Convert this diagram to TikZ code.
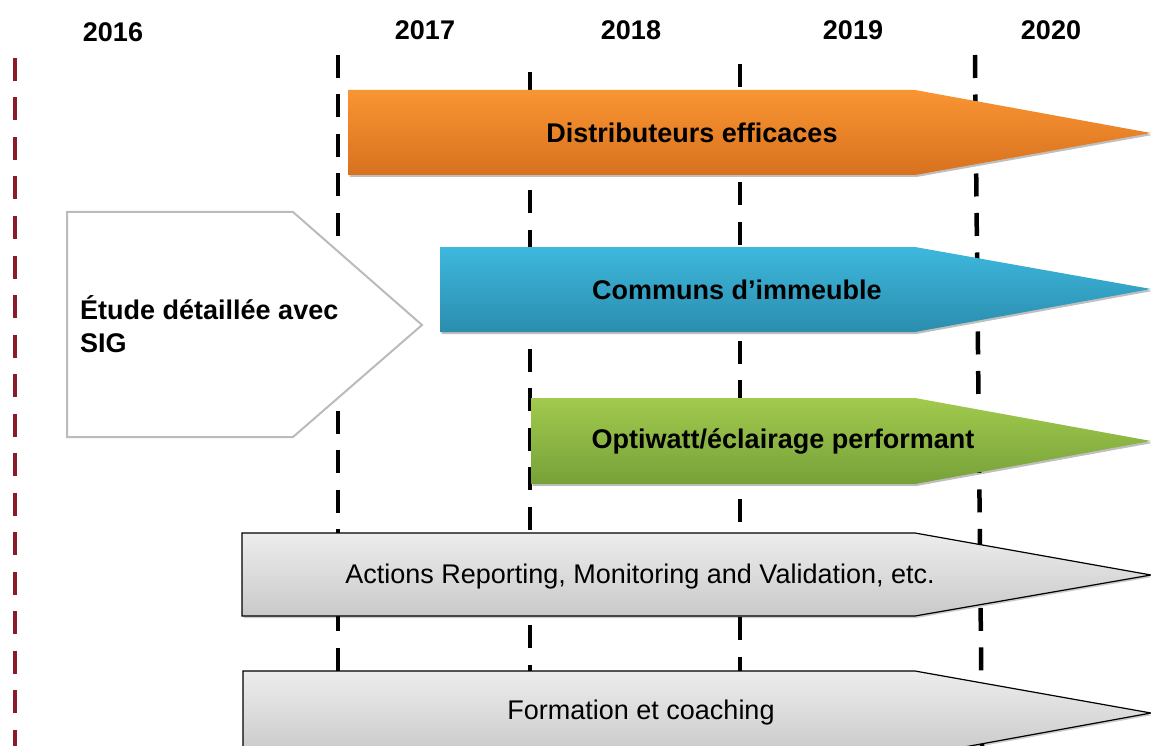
\documentclass[tikz,border=0pt]{standalone}
\usepackage{fontspec}
\setmainfont{Liberation Sans}
\usetikzlibrary{shadows}
\definecolor{orA}{HTML}{F99532}
\definecolor{orB}{HTML}{D8711F}
\definecolor{blA}{HTML}{3DB8DD}
\definecolor{blB}{HTML}{2B8DAE}
\definecolor{grA}{HTML}{A2CA4E}
\definecolor{grB}{HTML}{77A139}
\definecolor{gyA}{HTML}{EDEDED}
\definecolor{gyB}{HTML}{C9C9C9}
\definecolor{maroon}{HTML}{8B1A2B}
\definecolor{pentb}{HTML}{BBBBBB}
\begin{document}
\begin{tikzpicture}[x=1pt,y=-1pt,
  yearlbl/.style={font=\fontsize{27}{32}\selectfont\bfseries, inner sep=0pt},
  boldlbl/.style={font=\fontsize{27}{32}\selectfont\bfseries, inner sep=0pt},
  plainlbl/.style={font=\fontsize{27}{32}\selectfont, inner sep=0pt},
  tline/.style={black, line width=4.5pt, dash pattern=on 23pt off 16.5pt},
  mline/.style={maroon, line width=4.5pt, dash pattern=on 23pt off 16.5pt},
  colshadow/.style={drop shadow={opacity=0.25, shadow xshift=1.5pt, shadow yshift=-2pt, fill=black}},
  greyarrow/.style={top color=gyA, bottom color=gyB, draw=black, line width=1.2pt, line join=miter,
     drop shadow={opacity=0.2, shadow xshift=1.5pt, shadow yshift=-2pt, fill=black}},
]
\useasboundingbox (0,0) rectangle (1151,746);
\clip (0,0) rectangle (1151,746);
\fill[white] (0,0) rectangle (1151,746);

% year labels
\node[yearlbl] (y2016) at (113,32) {2016};
\node[yearlbl] (y2017) at (425,30) {2017};
\node[yearlbl] (y2018) at (631,30) {2018};
\node[yearlbl] (y2019) at (853,30) {2019};
\node[yearlbl] (y2020) at (1051,30) {2020};

% dashed time lines
\coordinate (m0t) at (15,58);   \coordinate (m0b) at (15,746);
\coordinate (d1t) at (338,55);  \coordinate (d1b) at (338,746);
\coordinate (d2t) at (530,72);  \coordinate (d2b) at (530,746);
\coordinate (d3t) at (740,64);  \coordinate (d3b) at (740,746);
\coordinate (d4t) at (975,55);  \coordinate (d4b) at (982,746);
\draw[mline] (m0t) -- (m0b);
\draw[tline] (d1t) -- (d1b);
\draw[tline] (d2t) -- (d2b);
\draw[tline] (d3t) -- (d3b);
\draw[tline] (d4t) -- (d4b);

% white pentagon
\path[draw=pentb, line width=2pt, fill=white]
  (67,212) -- (293,212) -- (422,325) -- (293,437) -- (67,437) -- cycle;
\node[anchor=west, align=left, inner sep=0pt, font=\fontsize{27}{33}\selectfont\bfseries] (etude) at (80,324)
  {Étude détaillée avec\\SIG};

% orange arrow
\path[top color=orA, bottom color=orB, colshadow]
  (348,90) -- (915,90) -- (1151,133) -- (915,175) -- (348,175) -- cycle;
\node[boldlbl] (dist) at (692,133) {Distributeurs efficaces};

% blue arrow
\path[top color=blA, bottom color=blB, colshadow]
  (440,247) -- (915,247) -- (1151,289) -- (915,332) -- (440,332) -- cycle;
\node[boldlbl] (comm) at (737,290) {Communs d’immeuble};

% green arrow
\path[top color=grA, bottom color=grB, colshadow]
  (531,398) -- (915,398) -- (1151,441) -- (915,484) -- (531,484) -- cycle;
\node[boldlbl] (opti) at (783,441) {Optiwatt/éclairage performant};

% grey arrows
\path[greyarrow]
  (242,533) -- (915,533) -- (1151,575) -- (915,616) -- (242,616) -- cycle;
\node[plainlbl] (act) at (640,577) {Actions Reporting, Monitoring and Validation, etc.};

\path[greyarrow]
  (243,671) -- (915,671) -- (1151,713) -- (915,756) -- (243,756) -- cycle;
\node[plainlbl] (form) at (641,713) {Formation et coaching};
\end{tikzpicture}
\end{document}
